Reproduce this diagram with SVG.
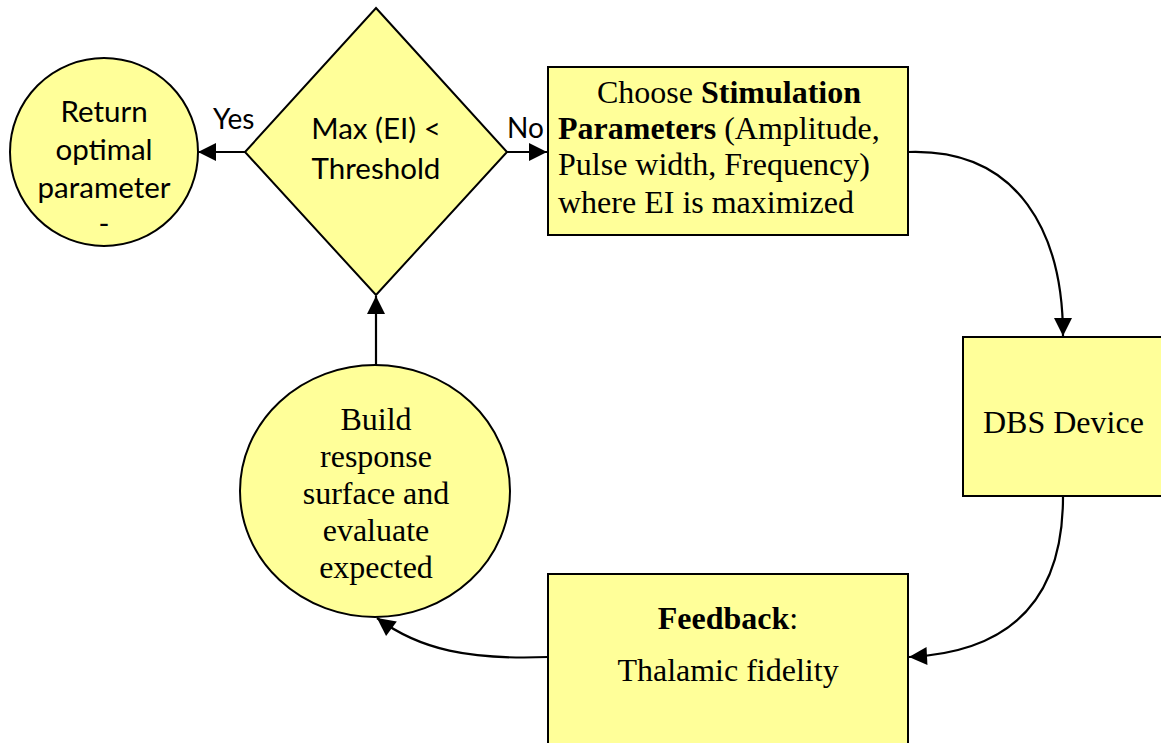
<svg xmlns="http://www.w3.org/2000/svg" width="1161" height="743" viewBox="0 0 1161 743">
  <style>
    .node { fill: #FFFF99; stroke: #000; stroke-width: 2; }
    .sans { font-family: Lato, "Open Sans", "Liberation Sans", sans-serif; font-size: 29.5px; fill: #000; }
    .lbl { font-family: Lato, "Open Sans", "Liberation Sans", sans-serif; font-size: 28px; fill: #000; }
    .serif { font-family: "Liberation Serif", "Times New Roman", serif; font-size: 32px; fill: #000; }
    .mid { text-anchor: middle; }
    .edge { fill: none; stroke: #000; stroke-width: 2.2; }
    .b { font-weight: bold; }
  </style>
  <defs>
    <marker id="arrowL" viewBox="0 0 10 10" refX="10" refY="5" markerWidth="20" markerHeight="18" markerUnits="userSpaceOnUse" orient="auto">
      <path d="M0,0 L10,5 L0,10 z" fill="#000"/>
    </marker>
  </defs>

  <!-- connectors -->
  <g id="connectors">
    <path class="edge" d="M245,152 L198,152" marker-end="url(#arrowL)"/>
    <path class="edge" d="M507,152 L547,152" marker-end="url(#arrowL)"/>
    <path class="edge" d="M908,152 C1020,148 1063,235 1063,336" marker-end="url(#arrowL)"/>
    <path class="edge" d="M1063,497 C1063,600 1010,652 909,657" marker-end="url(#arrowL)"/>
    <path class="edge" d="M548,657 C470,660 420,650 377,618" marker-end="url(#arrowL)"/>
    <path class="edge" d="M376,365 L376,296" marker-end="url(#arrowL)"/>
    <text class="lbl" x="213" y="129">Yes</text>
    <text class="lbl" x="507" y="138">No</text>
  </g>

  <!-- terminal: return result -->
  <g id="return-node">
    <circle class="node" cx="104" cy="152" r="94"/>
    <text class="sans mid" x="104" y="122">Return</text>
    <text class="sans mid" x="104" y="160">optimal</text>
    <text class="sans mid" x="104" y="198">parameter</text>
    <text class="sans mid" x="104" y="234">-</text>
  </g>

  <!-- decision -->
  <g id="decision-node">
    <polygon class="node" points="376,8 507,152 376,295 245,152"/>
    <text class="sans mid" x="376" y="139">Max (EI) &lt;</text>
    <text class="sans mid" x="376" y="179">Threshold</text>
  </g>

  <!-- parameter selection -->
  <g id="choose-node">
    <rect class="node" x="548" y="67" width="360" height="168"/>
    <text class="serif" x="597" y="103">Choose <tspan class="b">Stimulation</tspan></text>
    <text class="serif" x="558" y="139"><tspan class="b">Parameters</tspan> (Amplitude,</text>
    <text class="serif" x="558" y="175">Pulse width, Frequency)</text>
    <text class="serif" x="558" y="213">where EI is maximized</text>
  </g>

  <!-- device -->
  <g id="device-node">
    <rect class="node" x="963" y="337" width="210" height="159"/>
    <text class="serif" x="983" y="433">DBS Device</text>
  </g>

  <!-- feedback -->
  <g id="feedback-node">
    <rect class="node" x="548" y="574" width="360" height="180"/>
    <text class="serif mid" x="728" y="629"><tspan class="b">Feedback</tspan>:</text>
    <text class="serif mid" x="728" y="681">Thalamic fidelity</text>
  </g>

  <!-- surrogate model -->
  <g id="model-node">
    <ellipse class="node" cx="375" cy="491" rx="135" ry="126"/>
    <text class="serif mid" x="376" y="430">Build</text>
    <text class="serif mid" x="376" y="467">response</text>
    <text class="serif mid" x="376" y="504">surface and</text>
    <text class="serif mid" x="376" y="541">evaluate</text>
    <text class="serif mid" x="376" y="578">expected</text>
  </g>
</svg>
